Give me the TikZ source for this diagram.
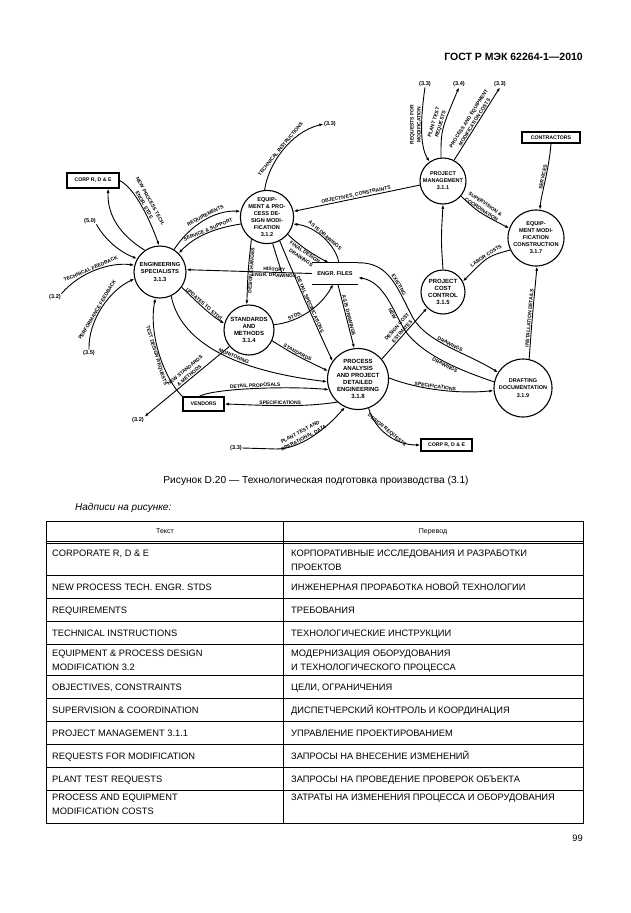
\documentclass[tikz,border=0pt]{standalone}
\usepackage{fontspec}
\setmainfont{Liberation Sans}
\usetikzlibrary{arrows.meta}
\begin{document}
\begin{tikzpicture}[x=1pt,y=-1pt,
  proc/.style={circle, draw, line width=1.1pt, inner sep=0pt, align=center, font=\bfseries\fontsize{6}{7.1}\selectfont},
  extbox/.style={draw, line width=1.2pt, inner sep=0pt, font=\bfseries\fontsize{5.2}{6}\selectfont},
  xref/.style={font=\bfseries\fontsize{5.6}{6.4}\selectfont, inner sep=0.5pt},
  flow/.style={line width=0.9pt, -{Latex[length=4.2pt,width=3pt]}},
  plain/.style={line width=0.9pt},
  lbl/.style={font=\bfseries\fontsize{5}{7}\selectfont, sloped, inner sep=0.7pt, align=center},
  cell/.style={anchor=base west, inner sep=0pt, font=\fontsize{9.3}{11}\selectfont},
  tline/.style={line width=0.6pt}
]
\useasboundingbox (0,0) rectangle (630,913);
\fill[white] (0,0) rectangle (630,913);

% header
\node[anchor=east, inner sep=0, font=\bfseries\fontsize{10.5}{12}\selectfont] (hdr) at (583,57) {ГОСТ Р МЭК 62264-1—2010};

% processes
\node[proc, minimum size=46pt, font=\bfseries\fontsize{5.5}{7}\selectfont] (pm) at (443,181) {PROJECT\\MANAGEMENT\\3.1.1};
\node[proc, minimum size=56pt, font=\bfseries\fontsize{5.6}{7}\selectfont] (emc) at (536,238) {EQUIP-\\MENT MODI-\\FICATION\\CONSTRUCTION\\3.1.7};
\node[proc, minimum size=44pt] (pcc) at (443,292) {PROJECT\\COST\\CONTROL\\3.1.5};
\node[proc, minimum size=58pt, font=\bfseries\fontsize{5.5}{7.2}\selectfont] (dd) at (523,388) {DRAFTING\\DOCUMENTATION\\3.1.9};
\node[proc, minimum size=61pt] (pa) at (358,379) {PROCESS\\ANALYSIS\\AND PROJECT\\DETAILED\\ENGINEERING\\3.1.8};
\node[proc, minimum size=50pt] (sm) at (249,330) {STANDARDS\\AND\\METHODS\\3.1.4};
\node[proc, minimum size=50pt, font=\bfseries\fontsize{5.6}{6.9}\selectfont] (epd) at (267,217) {EQUIP-\\MENT \& PRO-\\CESS DE-\\SIGN MODI-\\FICATION\\3.1.2};
\node[proc, minimum size=52pt, font=\bfseries\fontsize{5.8}{7.6}\selectfont] (es) at (160,272) {ENGINEERING\\SPECIALISTS\\3.1.3};

% store
\node[minimum width=46pt, minimum height=21pt, inner sep=0pt, font=\bfseries\fontsize{5.6}{6}\selectfont] (ef) at (335,273.5) {ENGR. FILES};
\draw[line width=1.2pt] (ef.north west) -- (ef.north east) (ef.south west) -- (ef.south east);

% external boxes
\node[extbox, minimum width=58pt, minimum height=11pt] (contr) at (551,137.5) {CONTRACTORS};
\node[extbox, minimum width=52pt, minimum height=15pt] (corpa) at (93,180.5) {CORP R, D \& E};
\node[extbox, minimum width=41pt, minimum height=14pt] (vend) at (203.5,404) {VENDORS};
\node[extbox, minimum width=51pt, minimum height=12pt] (corpb) at (446.5,445) {CORP R, D \& E};

% external references
\node[xref] (xa) at (425,84) {(3.3)};
\node[xref] (xb) at (459,84) {(3.4)};
\node[xref] (xc) at (500,84) {(3.3)};
\node[xref] (xd) at (330,124) {(3.3)};
\node[xref] (xe) at (90,221) {(5.0)};
\node[xref] (xf) at (55,297) {(3.2)};
\node[xref] (xg) at (89,353) {(3.5)};
\node[xref] (xh) at (138,420) {(3.2)};
\node[xref] (xi) at (236,448) {(3.3)};

% flows around project management
\draw[flow] (xa.south) .. controls (421,115) and (419,145) .. (pm.125) node[lbl, pos=0.45, above]{REQUESTS FOR\\MODIFICATION};
\draw[flow] (pm.95) .. controls (441,130) .. (xb.south) node[lbl, pos=0.55, above]{PLANT TEST\\REQUESTS};
\draw[flow] (pm.62) -- (xc.south) node[lbl, pos=0.5, above]{PROCESS AND EQUIPMENT\\MODIFICATION COSTS};
\draw[flow] (pm.190) -- (epd.12) node[lbl, pos=0.5, above]{OBJECTIVES, CONSTRAINTS};
\draw[flow] (pm.-40) .. controls (478,212) .. (emc.160) node[lbl, pos=0.5, above]{SUPERVISION \&\\COORDINATION};
\draw[flow] (contr.south) .. controls (549,170) and (541,195) .. (emc.82) node[lbl, pos=0.45, above]{SERVICES};
\draw[flow] (pcc.north) .. controls (441,240) .. (pm.south);
\draw[flow] (emc.205) .. controls (488,256) .. (pcc.28) node[lbl, pos=0.5, above]{LABOR COSTS};
\draw[flow] (dd.78) .. controls (532,320) .. (emc.-88) node[lbl, pos=0.5, above]{INSTALLATION DETAILS};

% drafting
\draw[flow] (pa.2) .. controls (420,390) and (460,394) .. (dd.185) node[lbl, pos=0.45, above]{SPECIFICATIONS};
\draw[flow] (ef.north east) .. controls (390,262) and (398,290) .. (413,318) node[lbl, pos=0.6, above]{EXISTING}
   .. controls (428,343) and (465,352) .. (dd.148) node[lbl, pos=0.5, above]{DRAWINGS};
\draw[flow] (dd.168) .. controls (465,372) and (425,357) .. (406,332) node[lbl, pos=0.5, below]{DRAWINGS}
   .. controls (393,312) and (385,282) .. (ef.-10) node[lbl, pos=0.3, below]{NEW};
\draw[flow] (pa.40) -- (pcc.-135) node[lbl, pos=0.5, above]{DESIGN COST\\ESTIMATES};

% engineering files
\draw[flow] (ef.-75) -- (pa.97) node[lbl, pos=0.5, above]{AS IS DRAWINGS};
\draw[flow] (ef.west) -- (es.5) coordinate[pos=0.24] (hj) node[lbl, pos=0.3, above]{HISTORY} node[lbl, pos=0.3, below]{ENGR. DRAWINGS};
\draw[plain] (epd.-78) -- (hj);
\draw[flow] (ef.70) .. controls (336,245) and (315,226) .. (epd.-15) node[lbl, pos=0.5, above]{AS IS DRAWINGS};
\draw[flow] (epd.-40) .. controls (300,246) and (312,254) .. (ef.120) node[lbl, pos=0.5, below]{FINAL DESIGN\\DRAWINGS};
\draw[flow] (epd.-62) .. controls (298,285) and (318,330) .. (pa.145) node[lbl, pos=0.5, above]{DETAIL SPECIFICATIONS};
\draw[flow] (epd.-125) .. controls (248,270) .. (sm.95) node[lbl, pos=0.5, below]{DESIGN CHANGES};
\draw[flow] (sm.12) .. controls (300,322) and (322,305) .. (ef.-100) node[lbl, pos=0.3, above]{STDS.};
\draw[flow] (sm.-25) .. controls (295,355) .. (pa.165) node[lbl, pos=0.5, above]{STANDARDS};

% engineering specialists
\draw[flow] (es.-35) .. controls (195,300) and (210,315) .. (sm.165) node[lbl, pos=0.5, above]{UPDATES TO STDS.};
\draw[flow] (es.-65) .. controls (180,340) and (230,370) .. (pa.185) node[lbl, pos=0.6, above]{MONITORING};
\draw[flow] (sm.-140) -- (xh.north east) node[lbl, pos=0.45, above]{NEW STANDARDS\\\& METHODS};
\draw[flow] (vend.north west) .. controls (165,380) and (148,335) .. (es.-100) node[lbl, pos=0.5, below]{TEST DESIGN REQUESTS};
\draw[flow] (es.58) .. controls (190,225) and (215,210) .. (epd.168) node[lbl, pos=0.55, above]{REQUIREMENTS};
\draw[flow] (epd.195) .. controls (215,228) and (195,236) .. (es.45) node[lbl, pos=0.45, above]{SERVICE \& SUPPORT};
\draw[flow] (epd.95) .. controls (268,165) and (290,132) .. (xd.west) node[lbl, pos=0.5, above]{TECHNICAL INSTRUCTIONS};
\draw[flow] (corpa.east) .. controls (135,188) and (150,220) .. (es.92) node[lbl, pos=0.5, above]{NEW PROCESS TECH.\\ENGR. STDS};
\draw[flow] (es.125) .. controls (120,235) and (107,215) .. (corpa.-28);
\draw[flow] (xe.south east) .. controls (105,240) and (120,252) .. (es.150);
\draw[flow] (xf.north east) .. controls (80,272) and (110,262) .. (es.165) node[lbl, pos=0.45, above]{TECHNICAL FEEDBACK};
\draw[flow] (xg.north) .. controls (88,320) and (110,290) .. (es.-165) node[lbl, pos=0.45, above]{PERFORMANCE FEEDBACK};

% vendors and lower flows
\draw[flow] (pa.-132) .. controls (300,408) and (260,405) .. (vend.east) node[lbl, pos=0.5, above]{SPECIFICATIONS};
\draw[flow] (vend.120) .. controls (215,388) and (290,386) .. (pa.-160) node[lbl, pos=0.5, above]{DETAIL PROPOSALS};
\draw[flow] (xi.east) -- (276,449) .. controls (300,449) and (325,430) .. (pa.-115) node[lbl, pos=0.4, above]{PLANT TEST AND\\OPERATIONAL DATA};
\draw[flow] (pa.-70) .. controls (375,430) and (395,445) .. (corpb.west) node[lbl, pos=0.45, above]{DESIGN REQUESTS};

% caption
\node[inner sep=0pt, font=\fontsize{10.2}{12}\selectfont] (cap) at (316,481) {Рисунок D.20 — Технологическая подготовка производства (3.1)};
\node[anchor=west, inner sep=0pt, font=\itshape\fontsize{10}{12}\selectfont] (nad) at (75,508) {Надписи на рисунке:};

% table
\draw[tline] (46,521) rectangle (583,823);
\draw[tline] (283,521) -- (283,823);
\foreach \yy in {541,543,575,598,621,644,675,698,721,744,767,790} \draw[tline] (46,\yy) -- (583,\yy);
\node[anchor=base, inner sep=0pt, font=\fontsize{7}{8}\selectfont] (th1) at (165,533.5) {Текст};
\node[anchor=base, inner sep=0pt, font=\fontsize{7}{8}\selectfont] (th2) at (433,533.5) {Перевод};
\node[cell] (a1) at (52,556.5) {CORPORATE R, D \& E};
\node[cell] (b1) at (291,556.5) {КОРПОРАТИВНЫЕ ИССЛЕДОВАНИЯ И РАЗРАБОТКИ};
\node[cell] (b1b) at (291,570) {ПРОЕКТОВ};
\node[cell] (a2) at (52,590) {NEW PROCESS TECH. ENGR. STDS};
\node[cell] (b2) at (291,590) {ИНЖЕНЕРНАЯ ПРОРАБОТКА НОВОЙ ТЕХНОЛОГИИ};
\node[cell] (a3) at (52,613) {REQUIREMENTS};
\node[cell] (b3) at (291,613) {ТРЕБОВАНИЯ};
\node[cell] (a4) at (52,636) {TECHNICAL INSTRUCTIONS};
\node[cell] (b4) at (291,636) {ТЕХНОЛОГИЧЕСКИЕ ИНСТРУКЦИИ};
\node[cell] (a5) at (52,656.5) {EQUIPMENT \& PROCESS DESIGN};
\node[cell] (a5b) at (52,670) {MODIFICATION 3.2};
\node[cell] (b5) at (291,656.5) {МОДЕРНИЗАЦИЯ ОБОРУДОВАНИЯ};
\node[cell] (b5b) at (291,670) {И ТЕХНОЛОГИЧЕСКОГО ПРОЦЕССА};
\node[cell] (a6) at (52,690) {OBJECTIVES, CONSTRAINTS};
\node[cell] (b6) at (291,690) {ЦЕЛИ, ОГРАНИЧЕНИЯ};
\node[cell] (a7) at (52,713) {SUPERVISION \& COORDINATION};
\node[cell] (b7) at (291,713) {ДИСПЕТЧЕРСКИЙ КОНТРОЛЬ И КООРДИНАЦИЯ};
\node[cell] (a8) at (52,736) {PROJECT MANAGEMENT 3.1.1};
\node[cell] (b8) at (291,736) {УПРАВЛЕНИЕ ПРОЕКТИРОВАНИЕМ};
\node[cell] (a9) at (52,759) {REQUESTS FOR MODIFICATION};
\node[cell] (b9) at (291,759) {ЗАПРОСЫ НА ВНЕСЕНИЕ ИЗМЕНЕНИЙ};
\node[cell] (a10) at (52,782) {PLANT TEST REQUESTS};
\node[cell] (b10) at (291,782) {ЗАПРОСЫ НА ПРОВЕДЕНИЕ ПРОВЕРОК ОБЪЕКТА};
\node[cell] (a11) at (52,800.5) {PROCESS AND EQUIPMENT};
\node[cell] (a11b) at (52,814) {MODIFICATION COSTS};
\node[cell] (b11) at (291,800.5) {ЗАТРАТЫ НА ИЗМЕНЕНИЯ ПРОЦЕССА И ОБОРУДОВАНИЯ};
\node[anchor=base east, inner sep=0pt, font=\fontsize{9.3}{11}\selectfont] (pg) at (583,841) {99};
\end{tikzpicture}
\end{document}
